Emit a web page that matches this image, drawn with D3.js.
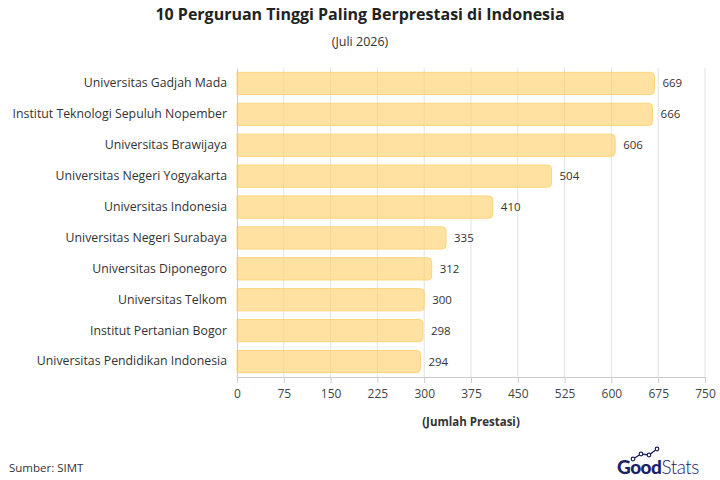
<!DOCTYPE html>
<html>
<head>
<meta charset="utf-8">
<script src="https://cdn.jsdelivr.net/npm/d3@7"></script>
<style>
  body { margin: 0; background: #fff; }
  svg { font-family: "Open Sans", Lato, sans-serif; }
</style>
</head>
<body>
<svg id="chart" width="720" height="480"></svg>
<script>
const campuses = [
  "Universitas Gadjah Mada",
  "Institut Teknologi Sepuluh Nopember",
  "Universitas Brawijaya",
  "Universitas Negeri Yogyakarta",
  "Universitas Indonesia",
  "Universitas Negeri Surabaya",
  "Universitas Diponegoro",
  "Universitas Telkom",
  "Institut Pertanian Bogor",
  "Universitas Pendidikan Indonesia"
]
const prestasi = [669, 666, 606, 504, 410, 335, 312, 300, 298, 294]
const xTicks = [0, 75, 150, 225, 300, 375, 450, 525, 600, 675, 750]

const svg = d3.select("#chart")
const margin = { top: 68, left: 237, right: 15, bottom: 103 }
const width = 720, height = 480

const x = d3.scaleLinear()
  .domain([0, 750])
  .range([margin.left, width - margin.right])

const y = d3.scaleBand()
  .domain(campuses)
  .range([margin.top, height - margin.bottom])
  .paddingInner(0.28)
  .paddingOuter(0.14)

// title
svg.append("text")
  .attr("x", 360).attr("y", 20)
  .attr("text-anchor", "middle")
  .attr("font-size", 16).attr("font-weight", "bold")
  .attr("fill", "#222")
  .text("10 Perguruan Tinggi Paling Berprestasi di Indonesia")

svg.append("text")
  .attr("x", 360).attr("y", 46)
  .attr("text-anchor", "middle")
  .attr("font-size", 12.5)
  .attr("fill", "#333")
  .text("(Juli 2026)")

// gridlines
svg.append("g")
  .selectAll("line")
  .data(xTicks.slice(1))
  .enter().append("line")
  .attr("x1", d => x(d)).attr("x2", d => x(d))
  .attr("y1", margin.top).attr("y2", height - margin.bottom)
  .attr("stroke", "#e3e3e3")

// bars, right side rounded
const r = 4
svg.append("g")
  .selectAll("path")
  .data(campuses)
  .enter().append("path")
  .attr("d", (d, i) => {
    const x0 = x(0), x1 = x(prestasi[i]), y0 = y(d), h = y.bandwidth()
    return `M${x0},${y0}H${x1 - r}Q${x1},${y0} ${x1},${y0 + r}V${y0 + h - r}Q${x1},${y0 + h} ${x1 - r},${y0 + h}H${x0}Z`
  })
  .attr("fill", "rgba(255, 210, 110, 0.65)")
  .attr("stroke", "#fdd47c")
  .attr("stroke-width", 1)

// value labels
svg.append("g")
  .selectAll("text")
  .data(campuses)
  .enter().append("text")
  .attr("x", (d, i) => x(prestasi[i]) + 8)
  .attr("y", d => y(d) + y.bandwidth() / 2)
  .attr("dy", "0.35em")
  .attr("font-size", 11.5)
  .attr("fill", "#333")
  .text((d, i) => prestasi[i])

// y axis
const yAxis = svg.append("g")
  .attr("transform", `translate(${margin.left},0)`)
  .call(d3.axisLeft(y).tickSize(0).tickPadding(10))
yAxis.select(".domain").attr("stroke", "#ccc")
yAxis.selectAll("text").attr("font-size", 12.3).attr("fill", "#333")
  .attr("font-family", "'Open Sans', sans-serif")

// x axis
const xAxis = svg.append("g")
  .attr("transform", `translate(0,${height - margin.bottom})`)
  .call(d3.axisBottom(x).tickValues(xTicks).tickSize(6).tickPadding(6))
xAxis.select(".domain").attr("stroke", "#ccc")
xAxis.selectAll(".tick line").attr("stroke", "#ccc")
xAxis.selectAll("text").attr("font-size", 12).attr("fill", "#444")
  .attr("font-family", "'Open Sans', sans-serif")

svg.append("text")
  .attr("x", (x(0) + x(750)) / 2).attr("y", 426)
  .attr("text-anchor", "middle")
  .attr("font-size", 11.5).attr("font-weight", "bold")
  .attr("fill", "#333")
  .text("(Jumlah Prestasi)")

// footer
svg.append("text")
  .attr("x", 9).attr("y", 472)
  .attr("font-size", 11.5)
  .attr("fill", "#333")
  .text("Sumber: SIMT")

const logo = svg.append("g").attr("transform", "translate(617,474)")
const logoText = logo.append("text")
  .attr("font-size", 19)
  .attr("fill", "#1d2166")
  .attr("font-family", "Lato, sans-serif")
  .attr("letter-spacing", -0.5)
logoText.append("tspan").attr("font-weight", "900").text("Good")
logoText.append("tspan").attr("font-weight", "300").text("Stats")
const spark = [[16, -15], [24, -20], [32, -19], [40, -25]]
logo.append("path")
  .attr("d", d3.line()(spark))
  .attr("fill", "none").attr("stroke", "#1d2166").attr("stroke-width", 1.3)
logo.selectAll("circle.sp").data(spark).enter().append("circle")
  .attr("cx", d => d[0]).attr("cy", d => d[1]).attr("r", 1.8)
  .attr("fill", "#fff").attr("stroke", "#1d2166").attr("stroke-width", 1.2)
</script>
</body>
</html>
